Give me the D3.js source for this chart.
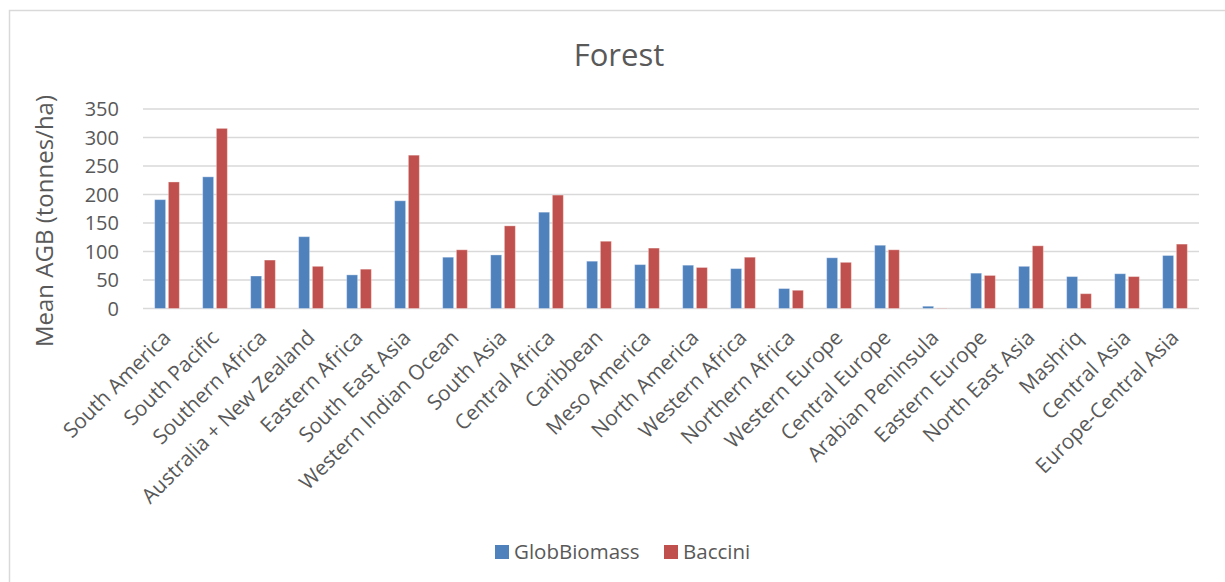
<!DOCTYPE html>
<html lang='en'>
<head>
    <meta charset='UTF-8'>
    <title>Forest</title>
    <style>
        body {
            margin: 0;
            background: #fff;
        }

        svg {
            display: block;
            font-family: 'Open Sans', 'Noto Sans', sans-serif;
        }

        .grid line {
            stroke: #d9d9d9;
            stroke-width: 1.5px;
        }

        text {
            fill: #595959;
        }
    </style>
</head>
<body>
    <div id="chart-wrapper"></div>
    <script src='https://d3js.org/d3.v7.min.js'></script>
    <script>
        const regions = ['South America', 'South Pacific', 'Southern Africa', 'Australia + New Zealand',
            'Eastern Africa', 'South East Asia', 'Western Indian Ocean', 'South Asia', 'Central Africa',
            'Caribbean', 'Meso America', 'North America', 'Western Africa', 'Northern Africa',
            'Western Europe', 'Central Europe', 'Arabian Peninsula', 'Eastern Europe', 'North East Asia',
            'Mashriq', 'Central Asia', 'Europe-Central Asia']
        const globBiomass = [191, 231, 57, 126, 59, 189, 90, 94, 169, 83, 77, 76, 70, 35, 89, 111, 4, 62, 74, 56, 61, 93]
        const baccini = [222, 316, 85, 74, 69, 269, 103, 145, 199, 118, 106, 72, 90, 32, 81, 103, 0.5, 58, 110, 26, 56, 113]
        const seriesNames = ['GlobBiomass', 'Baccini']
        const yTicks = [0, 50, 100, 150, 200, 250, 300, 350]

        const colors = ['#4f81bd', '#c0504d']
        const width = 1225
        const height = 582
        const plot = { left: 143, right: 1199, top: 109, bottom: 308.5 }

        const svg = d3.select('#chart-wrapper')
            .append('svg')
            .attr('width', width)
            .attr('height', height)

        // outer chart frame (runs off the right and bottom of the picture)
        svg.append('rect')
            .attr('x', 9.5)
            .attr('y', 10.5)
            .attr('width', 1400)
            .attr('height', 800)
            .attr('fill', 'none')
            .attr('stroke', '#d9d9d9')
            .attr('stroke-width', 1.5)

        const x0 = d3.scaleBand()
            .domain(regions)
            .range([plot.left, plot.right])
            .paddingInner(0.485)
            .paddingOuter(0.2425)

        const x1 = d3.scaleBand()
            .domain(seriesNames)
            .range([0, x0.bandwidth()])
            .paddingInner(0.2)

        const y = d3.scaleLinear()
            .domain([0, 350])
            .range([plot.bottom, plot.top])

        // gridlines
        svg.append('g')
            .attr('class', 'grid')
            .selectAll('line')
            .data(yTicks)
            .join('line')
            .attr('x1', plot.left)
            .attr('x2', plot.right)
            .attr('y1', d => y(d))
            .attr('y2', d => y(d))

        // y tick labels
        svg.append('g')
            .selectAll('text')
            .data(yTicks)
            .join('text')
            .attr('x', 119)
            .attr('y', d => y(d))
            .attr('dy', '0.35em')
            .attr('text-anchor', 'end')
            .style('font-size', '20px')
            .text(d => d)

        // bars
        const data = regions.map((r, i) => ({ region: r, values: [globBiomass[i], baccini[i]] }))
        svg.append('g')
            .selectAll('g')
            .data(data)
            .join('g')
            .attr('transform', d => `translate(${x0(d.region)},0)`)
            .selectAll('rect')
            .data(d => d.values.map((v, j) => ({ key: seriesNames[j], value: v, j })))
            .join('rect')
            .attr('x', d => x1(d.key))
            .attr('width', x1.bandwidth())
            .attr('y', d => y(d.value))
            .attr('height', d => y(0) - y(d.value))
            .attr('fill', d => colors[d.j])
            .attr('stroke', 'rgba(255,255,255,0.35)')
            .attr('stroke-width', 1)

        // category labels, rotated
        svg.append('g')
            .selectAll('text')
            .data(regions)
            .join('text')
            .attr('transform', d => `translate(${x0(d) + x0.bandwidth() / 2 + 5},339) rotate(-45)`)
            .attr('text-anchor', 'end')
            .style('font-size', '20.8px')
            .text(d => d)

        // title
        svg.append('text')
            .attr('x', 619)
            .attr('y', 66)
            .attr('text-anchor', 'middle')
            .style('font-size', '31px')
            .text('Forest')

        // y axis title
        svg.append('text')
            .attr('transform', 'translate(53,221) rotate(-90)')
            .attr('text-anchor', 'middle')
            .style('font-size', '24px')
            .text('Mean AGB (tonnes/ha)')

        // legend
        const legend = svg.append('g')
            .attr('transform', 'translate(495,545)')
        const items = legend.selectAll('g')
            .data(seriesNames)
            .join('g')
            .attr('transform', (d, i) => `translate(${i === 0 ? 0 : 169},0)`)
        items.append('rect')
            .attr('width', 14)
            .attr('height', 14)
            .attr('fill', (d, i) => colors[i])
        items.append('text')
            .attr('x', 19)
            .attr('y', 7)
            .attr('dy', '0.35em')
            .style('font-size', '20.5px')
            .text(d => d)
    </script>
</body>
</html>
